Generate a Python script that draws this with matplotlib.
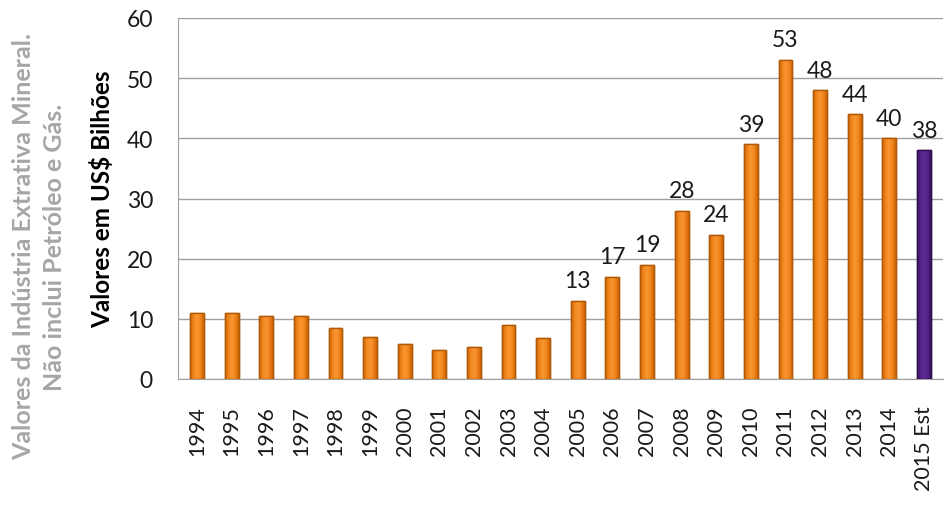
import matplotlib
matplotlib.use("Agg")
import matplotlib.pyplot as plt
from matplotlib.colors import LinearSegmentedColormap
import numpy as np

years = ["1994", "1995", "1996", "1997", "1998", "1999", "2000", "2001", "2002",
         "2003", "2004", "2005", "2006", "2007", "2008", "2009", "2010", "2011",
         "2012", "2013", "2014", "2015 Est"]
values = [11, 11, 10.4, 10.4, 8.4, 6.9, 5.8, 4.8, 5.3, 8.9, 6.8,
          13, 17, 19, 28, 24, 39, 53, 48, 44, 40, 38]
labeled_from = "2005"

plt.rcParams['font.family'] = ['Lato', 'DejaVu Sans']

fig = plt.figure(figsize=(9.53, 5.10), dpi=100)
ax = fig.add_axes([178/953, 1 - 380/510, (943-178)/953, (380-19)/510])

x = np.arange(len(years))
colors = ['#F07E0E'] * (len(years) - 1) + ['#4A1C78']
edges = ['#B05A08'] * (len(years) - 1) + ['#2E0F50']
bars = ax.bar(x, values, width=0.4, color=colors, edgecolor=edges, linewidth=1, zorder=3)

orange_cmap = LinearSegmentedColormap.from_list('o', ['#C9650A', '#F28419', '#F79634', '#F28419', '#C9650A'])
purple_cmap = LinearSegmentedColormap.from_list('p', ['#3A1262', '#55238A', '#5E2994', '#55238A', '#3A1262'])
grad = np.linspace(0, 1, 64).reshape(1, -1)
for i, b in enumerate(bars):
    cmap = purple_cmap if i == len(bars) - 1 else orange_cmap
    im = ax.imshow(grad, cmap=cmap, aspect='auto', zorder=3.5,
                   extent=[b.get_x(), b.get_x() + b.get_width(), 0, b.get_height()])
    im.set_clip_path(b)
    ax.bar(b.get_x() + b.get_width() / 2, b.get_height(), width=b.get_width(),
           facecolor='none', edgecolor=edges[i], linewidth=1, zorder=4)

start = years.index(labeled_from)
for i in range(start, len(years)):
    ax.text(x[i], values[i] + 1.6, f"{values[i]:g}", ha='center', va='bottom',
            fontsize=16.5, color='#1a1a1a')

ax.set_xlim(-0.55, len(years) - 0.45)
ax.set_ylim(0, 60)
ax.set_yticks(range(0, 61, 10))
ax.set_xticks(x)
ax.set_xticklabels(years, rotation=90, fontsize=15.5)
ax.tick_params(axis='y', labelsize=16.5, length=0, pad=18, labelcolor='#1a1a1a')
ax.tick_params(axis='x', length=0, pad=19, labelcolor='#1a1a1a')
ax.yaxis.grid(True, color='#A0A0A0', linewidth=1, zorder=0)
for s in ['top', 'right']:
    ax.spines[s].set_visible(False)
ax.spines['left'].set_color('#A0A0A0')
ax.spines['bottom'].set_color('#A0A0A0')

ax.set_ylabel("Valores em US$ Bilhões", fontsize=17.5, fontweight='bold')
ax.yaxis.set_label_coords(-0.083, 0.5)

fig.text(39/953, 1 - 247/510, "Valores da Indústria Extrativa Mineral.\nNão inclui Petróleo e Gás.",
         rotation=90, ha='center', va='center', fontsize=18, fontweight='bold',
         color='#A6A6A6', multialignment='center', linespacing=1.45)

fig.savefig("out.png", dpi=100)
